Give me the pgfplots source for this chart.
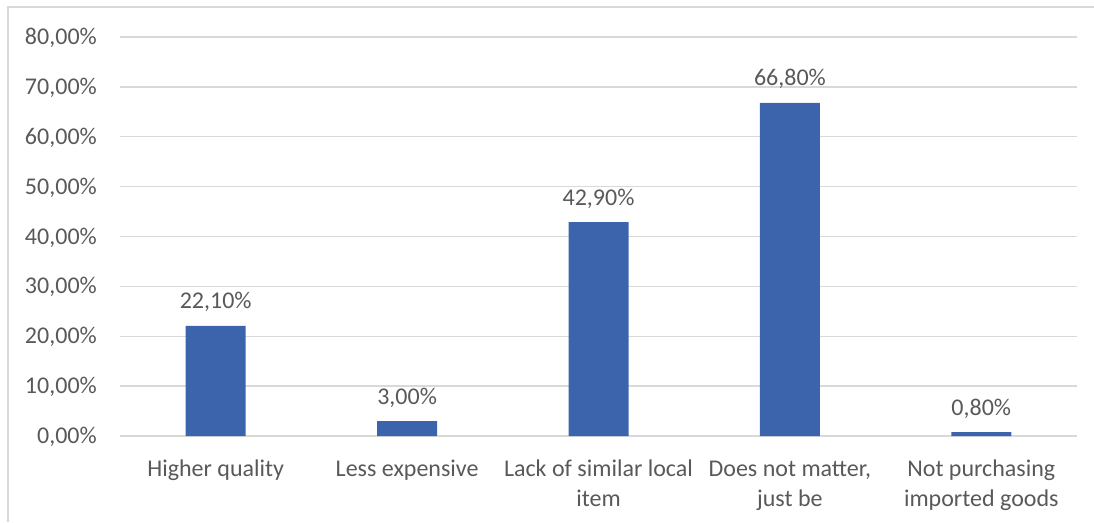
\documentclass[border=0pt]{standalone}
\usepackage{pgfplots}
\pgfplotsset{compat=1.18}
\usepackage{fontspec}
\setmainfont{Carlito}
\definecolor{barblue}{RGB}{60,100,173}
\definecolor{txtgray}{RGB}{89,89,89}
\definecolor{gridgray}{RGB}{217,217,217}
\pgfkeys{/pgf/number format/assume math mode=true}
\begin{document}
\begin{tikzpicture}[x=1pt,y=1pt]
\begin{axis}[
  name=ax,
  scale only axis, width=957pt, height=399pt,
  ymin=0, ymax=80, ytick={0,10,...,80},
  xmin=-0.5, xmax=4.5, xtick={0,1,2,3,4},
  xticklabels={{Higher quality\\\mbox{}}, {Less expensive\\\mbox{}}, {Lack of similar local\\item}, {Does not matter,\\just be}, {Not purchasing\\imported goods}},
  axis line style={draw=none},
  major tick length=0pt,
  ymajorgrids, grid style={gridgray, line width=1.3pt},
  ybar, bar width=60pt,
  font=\fontsize{24}{30}\selectfont,
  tick label style={txtgray, font=\fontsize{24}{30}\selectfont},
  xticklabel style={align=center, anchor=base, inner sep=0pt, yshift=-70pt},
  yticklabel style={anchor=base east, inner sep=0pt, xshift=-23pt, yshift=-7.6pt},
  yticklabel={\pgfmathprintnumber[fixed,fixed zerofill,precision=2,use comma]{\tick}\%},
  nodes near coords={\pgfmathprintnumber[fixed,fixed zerofill,precision=2,use comma]{\pgfplotspointmeta}\%},
  every node near coord/.append style={anchor=base, yshift=17pt, inner sep=0pt, txtgray, font=\fontsize{24}{30}\selectfont},
  clip=false,
]
\addplot[fill=barblue, draw=none] coordinates {(0,22.1) (1,3.0) (2,42.9) (3,66.8) (4,0.8)};
\end{axis}
\pgfresetboundingbox
\begin{scope}[shift={(ax.south west)}]
\useasboundingbox (-120,-86) rectangle (974,436);
\draw[gridgray, line width=2pt] (-112,-86) -- (-112,429) -- (974,429);
\end{scope}
\end{tikzpicture}
\end{document}
